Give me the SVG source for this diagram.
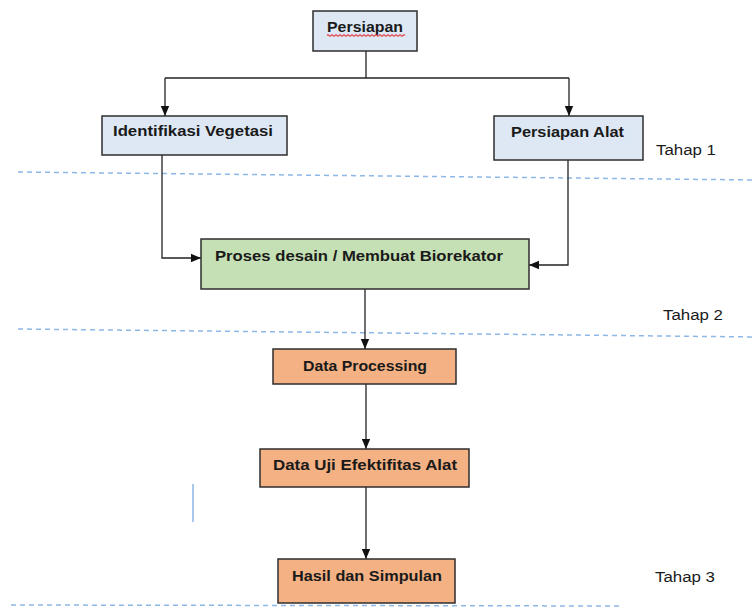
<svg xmlns="http://www.w3.org/2000/svg" width="755" height="608" viewBox="0 0 755 608">
<defs>
<marker id="arr" markerUnits="userSpaceOnUse" markerWidth="10" markerHeight="10" viewBox="0 0 10 10" refX="10" refY="5" orient="auto">
<path d="M0,0.8 L10,5 L0,9.2 Z" fill="#111"/>
</marker>
<style>
.box{stroke:#2e2e2e;stroke-width:1.5}
.blue{fill:#dee8f4}
.green{fill:#c5e0b4}
.orange{fill:#f4b183}
.lbl{font-family:"Liberation Sans",Arial,sans-serif;font-weight:bold;font-size:15px;fill:#1a1a1a}
.tahap{font-family:"Liberation Sans",Arial,sans-serif;font-size:14px;fill:#1a1a1a}
.con{fill:none;stroke:#222;stroke-width:1.3}
.dash{fill:none;stroke:#8db7e6;stroke-width:1.5;stroke-dasharray:5 4}
</style>
</defs>
<rect width="755" height="608" fill="#fff"/>
<g id="dividers">
<path class="dash" d="M18,172 L755,180"/>
<path class="dash" d="M18,329 L755,337"/>
<path class="dash" d="M11,605 L622,606"/>
<path d="M193,484 L193,522" stroke="#8db7e6" stroke-width="1.5" fill="none"/>
</g>
<g id="connectors">
<path class="con" d="M366,51 L366,78"/>
<path class="con" d="M165,78 L569,78"/>
<path class="con" d="M165,78 L165,116" marker-end="url(#arr)"/>
<path class="con" d="M569,78 L569,116" marker-end="url(#arr)"/>
<path class="con" d="M162,155 L162,258 L201,258" marker-end="url(#arr)"/>
<path class="con" d="M568,160 L568,265 L529,265" marker-end="url(#arr)"/>
<path class="con" d="M365,289 L365,349" marker-end="url(#arr)"/>
<path class="con" d="M366,384 L366,449" marker-end="url(#arr)"/>
<path class="con" d="M366,487 L366,559" marker-end="url(#arr)"/>
</g>
<g id="persiapan">
<rect class="box blue" x="313" y="11" width="104" height="40"/>
<text class="lbl" x="327" y="32" textLength="76" lengthAdjust="spacingAndGlyphs">Persiapan</text>
<path d="M327,35.5 q1,-1.5 2,0 t2,0 t2,0 t2,0 t2,0 t2,0 t2,0 t2,0 t2,0 t2,0 t2,0 t2,0 t2,0 t2,0 t2,0 t2,0 t2,0 t2,0 t2,0 t2,0 t2,0 t2,0 t2,0 t2,0 t2,0 t2,0 t2,0 t2,0 t2,0 t2,0 t2,0 t2,0 t2,0 t2,0 t2,0 t2,0 t2,0 t2,0 t2,0" fill="none" stroke="#e03030" stroke-width="1.2"/>
</g>
<g id="identifikasi">
<rect class="box blue" x="102" y="116" width="185" height="39"/>
<text class="lbl" x="113" y="136" textLength="160" lengthAdjust="spacingAndGlyphs">Identifikasi Vegetasi</text>
</g>
<g id="persiapan-alat">
<rect class="box blue" x="494" y="116" width="149" height="44"/>
<text class="lbl" x="511" y="137" textLength="113" lengthAdjust="spacingAndGlyphs">Persiapan Alat</text>
</g>
<g id="proses">
<rect class="box green" x="201" y="239" width="328" height="50"/>
<text class="lbl" x="215" y="261" textLength="288" lengthAdjust="spacingAndGlyphs">Proses desain / Membuat Biorekator</text>
</g>
<g id="data-processing">
<rect class="box orange" x="273" y="349" width="183" height="35"/>
<text class="lbl" x="303" y="371" textLength="124" lengthAdjust="spacingAndGlyphs">Data Processing</text>
</g>
<g id="data-uji">
<rect class="box orange" x="260" y="449" width="209" height="38"/>
<text class="lbl" x="273" y="470" textLength="184" lengthAdjust="spacingAndGlyphs">Data Uji Efektifitas Alat</text>
</g>
<g id="hasil">
<rect class="box orange" x="278" y="559" width="177" height="44"/>
<text class="lbl" x="292" y="581" textLength="150" lengthAdjust="spacingAndGlyphs">Hasil dan Simpulan</text>
</g>
<g id="labels">
<text class="tahap" x="656" y="155" textLength="60" lengthAdjust="spacingAndGlyphs">Tahap 1</text>
<text class="tahap" x="663" y="320" textLength="60" lengthAdjust="spacingAndGlyphs">Tahap 2</text>
<text class="tahap" x="655" y="582" textLength="60" lengthAdjust="spacingAndGlyphs">Tahap 3</text>
</g>
</svg>
